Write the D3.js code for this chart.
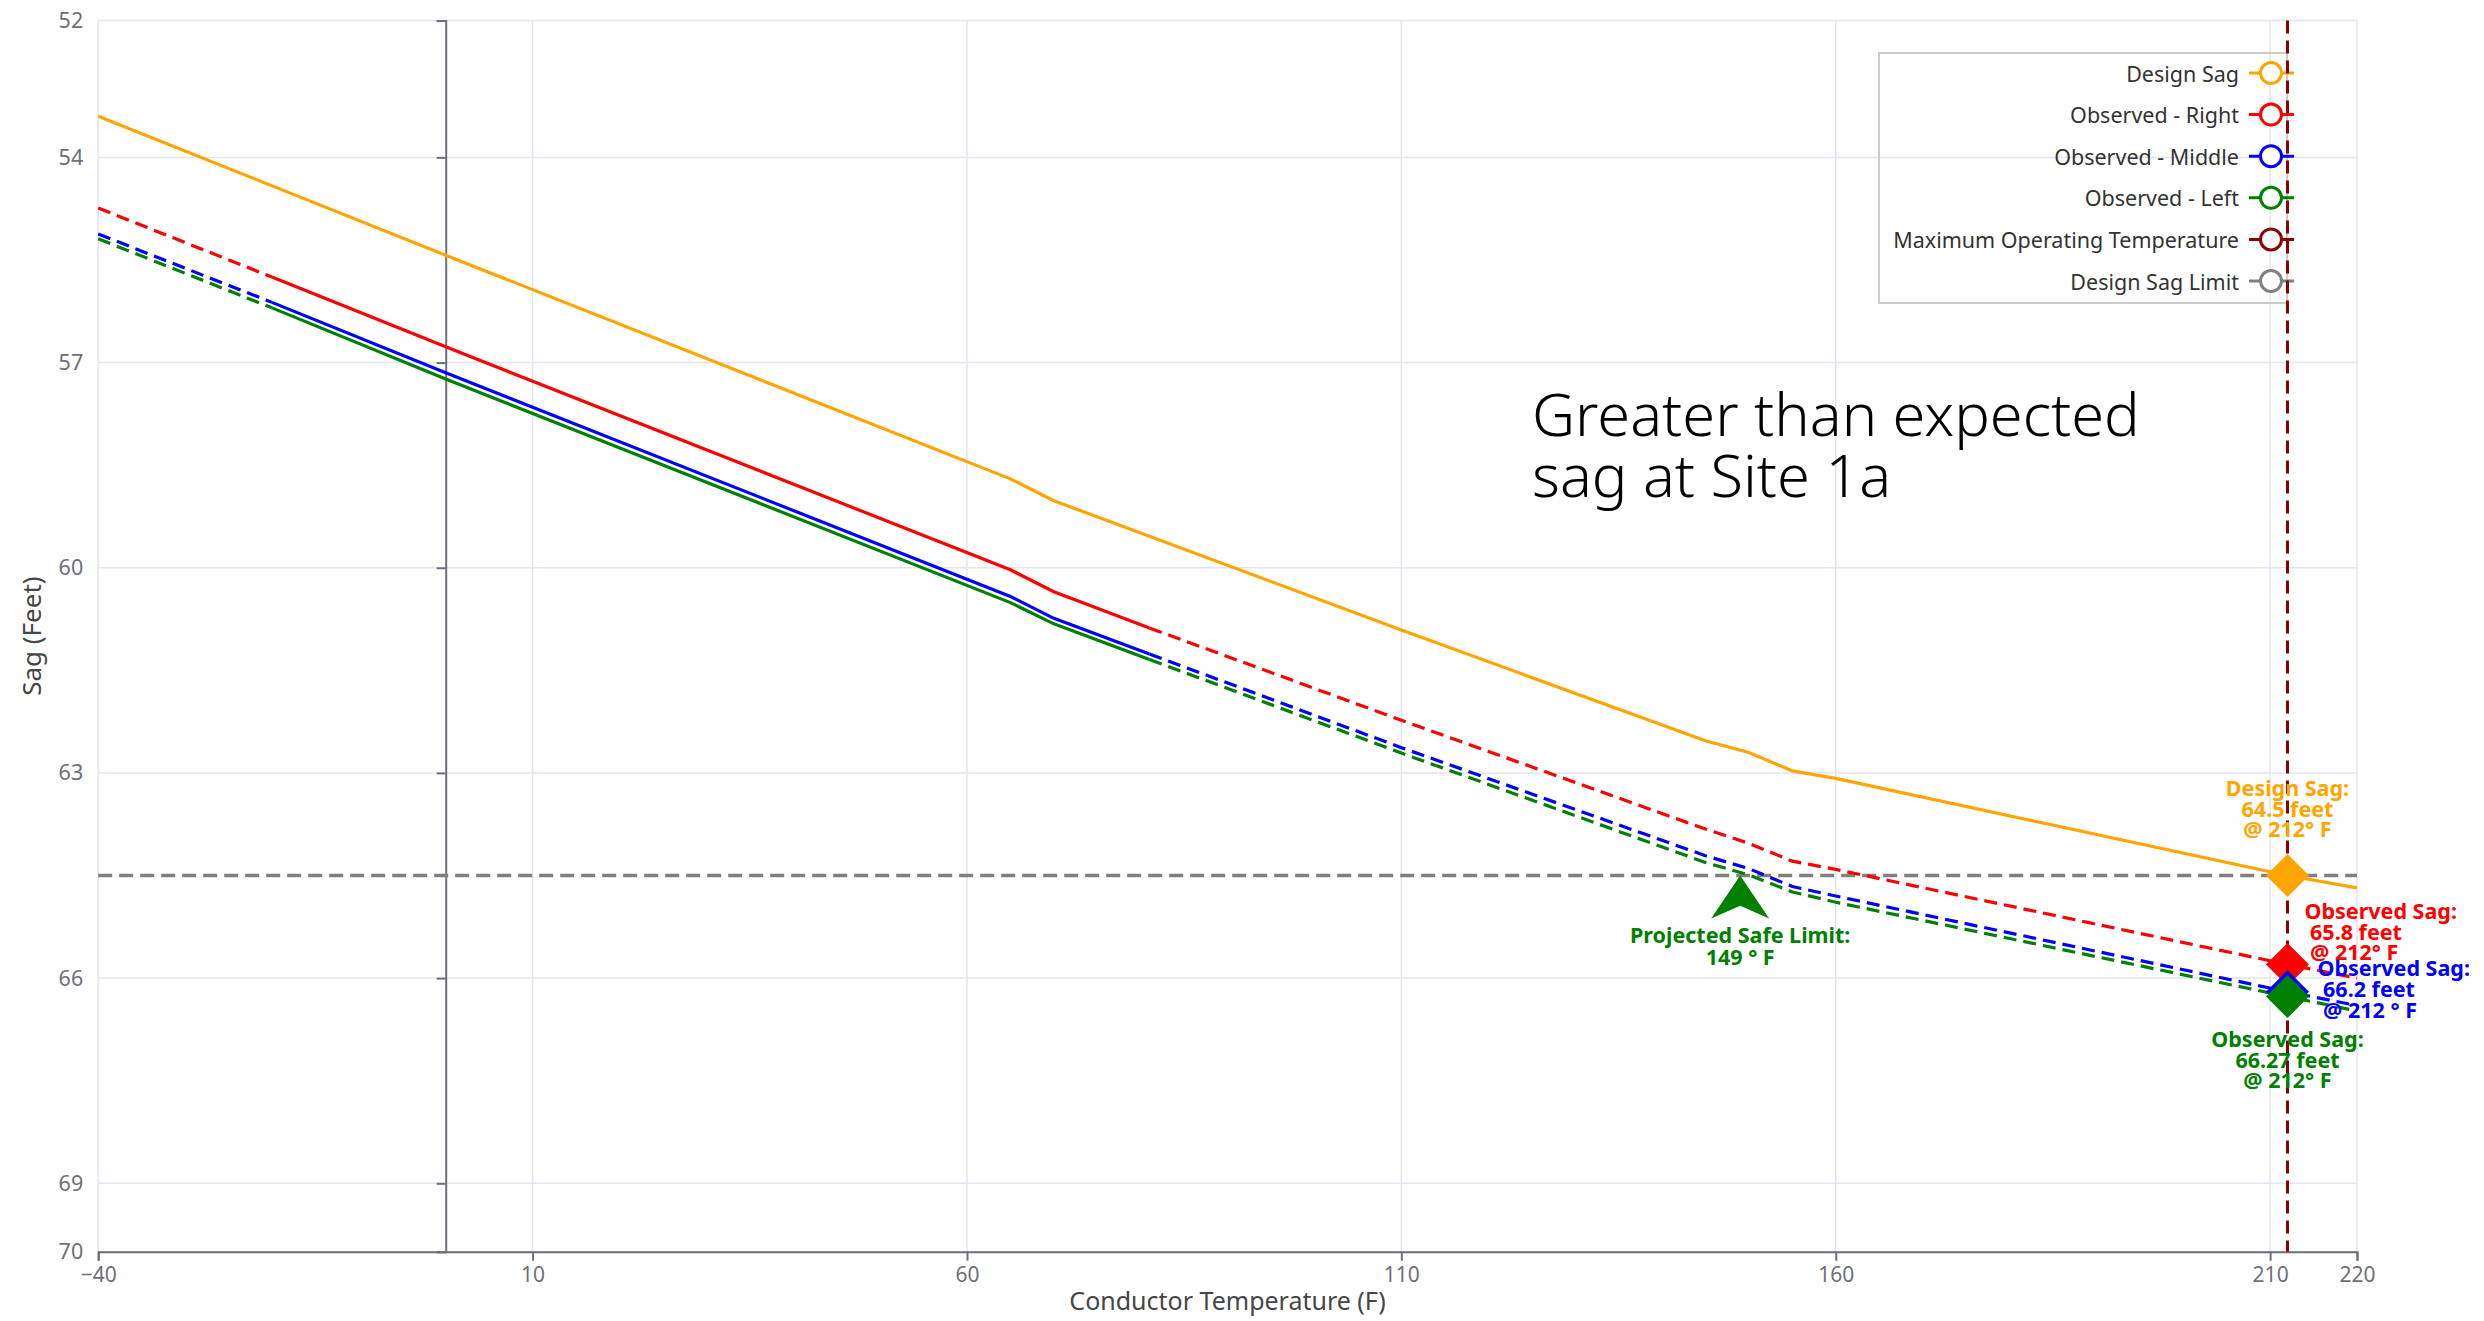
<!DOCTYPE html>
<html><head><meta charset="utf-8">
<script src="https://cdn.jsdelivr.net/npm/d3@7"></script>
<style>body{margin:0;background:#fff;} svg{display:block;} text{white-space:pre;}</style>
</head><body><svg id="c" width="2484" height="1321"></svg>
<script>
// ---------- data ----------
const xTicks = [-40, 10, 60, 110, 160, 210, 220];
const yTicks = [52, 54, 57, 60, 63, 66, 69, 70];

const designTemps = [-40, 0, 65, 70, 110, 145, 150, 155, 160, 212, 220];
const designSag   = [53.40, 55.43, 58.70, 59.02, 60.91, 62.53, 62.70, 62.97, 63.08, 64.50, 64.68];

const obsTemps       = [-40, -20, 0, 65, 70, 81, 110, 145, 150, 155, 160, 212, 220];
const observedRight  = [54.74, 55.75, 56.77, 60.03, 60.35, 60.88, 62.23, 63.82, 64.03, 64.29, 64.41, 65.80, 66.00];
const observedMiddle = [55.12, 56.12, 57.15, 60.42, 60.74, 61.26, 62.63, 64.21, 64.40, 64.66, 64.80, 66.20, 66.40];
const observedLeft   = [55.19, 56.20, 57.24, 60.51, 60.82, 61.34, 62.71, 64.31, 64.49, 64.74, 64.89, 66.27, 66.48];
const measuredRange  = [-20, 81];

const maxOpTemp = 212;
const designSagLimit = 64.5;
const safeLimitTemp = 149;

const legendNames  = ["Design Sag", "Observed - Right", "Observed - Middle", "Observed - Left", "Maximum Operating Temperature", "Design Sag Limit"];
const legendColors = ["#FFA500", "#FF0000", "#0000FF", "#008000", "#8B0000", "#808080"];

const markerValues = [64.5, 65.8, 66.2, 66.27];
const markerColors = ["#FFA500", "#FF0000", "#0000FF", "#008000"];
const markerLabels = [
  ["Design Sag:", "64.5 feet", "@ 212° F"],
  ["Observed Sag:", " 65.8 feet", " @ 212° F"],
  ["Observed Sag:", " 66.2 feet", " @ 212 ° F"],
  ["Observed Sag:", "66.27 feet", "@ 212° F"]
];
const safeLimitLabel = ["Projected Safe Limit:", "149 ° F"];
const annotationLines = ["Greater than expected", "sag at Site 1a"];

// ---------- layout ----------
const svg = d3.select("#c");
const L = 98.2, R = 2357, T = 20.6, B = 1251.7;
const x = d3.scaleLinear().domain([-40, 220]).range([L, R]);
const y = d3.scaleLinear().domain([52, 70]).range([T, B]);
const axisColor = "#6E7079";
const gridColor = "#E0E6F1";
const tickFont = "'Noto Sans', sans-serif";

// grid
const grid = svg.append("g");
grid.selectAll("line.v").data(xTicks).join("line")
  .attr("x1", d => x(d)).attr("x2", d => x(d)).attr("y1", T).attr("y2", B)
  .attr("stroke", gridColor).attr("stroke-width", 1.5);
grid.selectAll("line.h").data(yTicks).join("line")
  .attr("y1", d => y(d)).attr("y2", d => y(d)).attr("x1", L).attr("x2", R)
  .attr("stroke", gridColor).attr("stroke-width", 1.5);

// x axis
const xAxis = svg.append("g").attr("transform", `translate(0,${B})`)
  .call(d3.axisBottom(x).tickValues(xTicks).tickSize(9).tickPadding(6).tickFormat(d3.format("d")));
xAxis.select(".domain").attr("stroke", axisColor).attr("stroke-width", 2);
xAxis.selectAll(".tick line").attr("stroke", axisColor).attr("stroke-width", 2);
xAxis.selectAll("text").attr("fill", axisColor).style("font-family", tickFont).style("font-size", "21px");

// y axis line at x=0 with ticks
const yAxisLine = svg.append("g").attr("transform", `translate(${x(0)},0)`)
  .call(d3.axisLeft(y).tickValues(yTicks).tickSize(9).tickFormat(""));
yAxisLine.select(".domain").attr("stroke", axisColor).attr("stroke-width", 2);
yAxisLine.selectAll(".tick line").attr("stroke", axisColor).attr("stroke-width", 2);

// y labels at left edge
const yLab = svg.append("g").attr("transform", `translate(${L},0)`)
  .call(d3.axisLeft(y).tickValues(yTicks).tickSize(0).tickPadding(15));
yLab.select(".domain").remove();
yLab.selectAll("text").attr("fill", axisColor).style("font-family", tickFont).style("font-size", "21.5px");

// axis titles
svg.append("text").attr("x", (L + R) / 2).attr("y", 1300).attr("text-anchor", "middle")
  .attr("dominant-baseline", "central").attr("fill", "#464646")
  .style("font-family", tickFont).style("font-size", "25px").text("Conductor Temperature (F)");
svg.append("text").attr("transform", `translate(31,${(T + B) / 2}) rotate(-90)`)
  .attr("text-anchor", "middle").attr("dominant-baseline", "central").attr("fill", "#464646")
  .style("font-family", tickFont).style("font-size", "26px").text("Sag (Feet)");

// legend
const lg = svg.append("g");
lg.append("rect").attr("x", 1879).attr("y", 53).attr("width", 2287 - 1879).attr("height", 250)
  .attr("fill", "none").attr("stroke", "#cccccc").attr("stroke-width", 2);
legendNames.forEach((n, i) => {
  const cy = 73 + i * 41.6;
  lg.append("text").attr("x", 2239).attr("y", cy).attr("text-anchor", "end")
    .attr("dominant-baseline", "central").attr("fill", "#333")
    .style("font-family", tickFont).style("font-size", "21.5px").text(n);
  lg.append("line").attr("x1", 2249).attr("x2", 2294).attr("y1", cy).attr("y2", cy)
    .attr("stroke", legendColors[i]).attr("stroke-width", 3);
  lg.append("circle").attr("cx", 2271).attr("cy", cy).attr("r", 10.5)
    .attr("fill", "#fff").attr("stroke", legendColors[i]).attr("stroke-width", 3);
});

// design sag limit
svg.append("line").attr("x1", L).attr("x2", R).attr("y1", y(designSagLimit)).attr("y2", y(designSagLimit))
  .attr("stroke", "#808080").attr("stroke-width", 3.5).attr("stroke-dasharray", "14,7");

// series
const line = d3.line().x(d => x(d.t)).y(d => y(d.v));
const design = designTemps.map((t, i) => ({t, v: designSag[i]}));
svg.append("path").datum(design).attr("d", line).attr("fill", "none")
  .attr("stroke", "#FFA500").attr("stroke-width", 3.2);

function drawObserved(vals, color) {
  const pts = obsTemps.map((t, i) => ({t, v: vals[i]}));
  const low = pts.filter(p => p.t <= measuredRange[0]);
  const mid = pts.filter(p => p.t >= measuredRange[0] && p.t <= measuredRange[1]);
  const high = pts.filter(p => p.t >= measuredRange[1]);
  [low, high].forEach(seg => svg.append("path").datum(seg).attr("d", line).attr("fill", "none")
    .attr("stroke", color).attr("stroke-width", 3.2).attr("stroke-dasharray", "13,7"));
  svg.append("path").datum(mid).attr("d", line).attr("fill", "none")
    .attr("stroke", color).attr("stroke-width", 3.2);
}
drawObserved(observedRight, "#FF0000");
drawObserved(observedMiddle, "#0000FF");
drawObserved(observedLeft, "#008000");

// max operating temperature line
svg.append("line").attr("x1", x(maxOpTemp)).attr("x2", x(maxOpTemp)).attr("y1", T).attr("y2", B)
  .attr("stroke", "#8B0000").attr("stroke-width", 3).attr("stroke-dasharray", "13,7");

// diamonds
const diamond = d3.symbol(d3.symbolSquare, 924);
markerValues.forEach((v, i) => {
  svg.append("path").attr("d", diamond())
    .attr("transform", `translate(${x(maxOpTemp)},${y(v)}) rotate(45)`)
    .attr("fill", markerColors[i]);
});

// safe limit arrow
{
  const ax = x(safeLimitTemp), ay = y(designSagLimit), h = 43, dx = 29;
  svg.append("path")
    .attr("d", `M${ax},${ay} L${ax + dx},${ay + h} L${ax},${ay + h * 0.7} L${ax - dx},${ay + h} Z`)
    .attr("fill", "#008000");
  safeLimitLabel.forEach((s, k) => {
    svg.append("text").attr("x", ax).attr("y", ay + 59 + k * 21.5).attr("text-anchor", "middle")
      .attr("dominant-baseline", "central").attr("fill", "#008000")
      .style("font-family", tickFont).style("font-size", "21.5px").style("font-weight", "bold").text(s);
  });
}

// marker labels
const labelLayout = [
  {dx: 0, dy: -88, anchor: "middle"},
  {dx: 17, dy: -54, anchor: "start"},
  {dx: 30, dy: -24, anchor: "start"},
  {dx: 0, dy: 42, anchor: "middle"}
];
markerLabels.forEach((lines, i) => {
  const cx = x(maxOpTemp) + labelLayout[i].dx, cy = y(markerValues[i]) + labelLayout[i].dy;
  lines.forEach((s, k) => {
    svg.append("text").attr("x", cx).attr("y", cy + k * 20.7).attr("text-anchor", labelLayout[i].anchor)
      .attr("dominant-baseline", "central").attr("fill", markerColors[i])
      .style("font-family", tickFont).style("font-size", "21.5px").style("font-weight", "bold").text(s);
  });
});

// annotation
annotationLines.forEach((s, k) => {
  svg.append("text").attr("x", 1532).attr("y", 436 + k * 61).attr("fill", "#000")
    .style("font-family", tickFont).style("font-weight", "300").style("font-size", "59.5px").text(s);
});
</script></body></html>
